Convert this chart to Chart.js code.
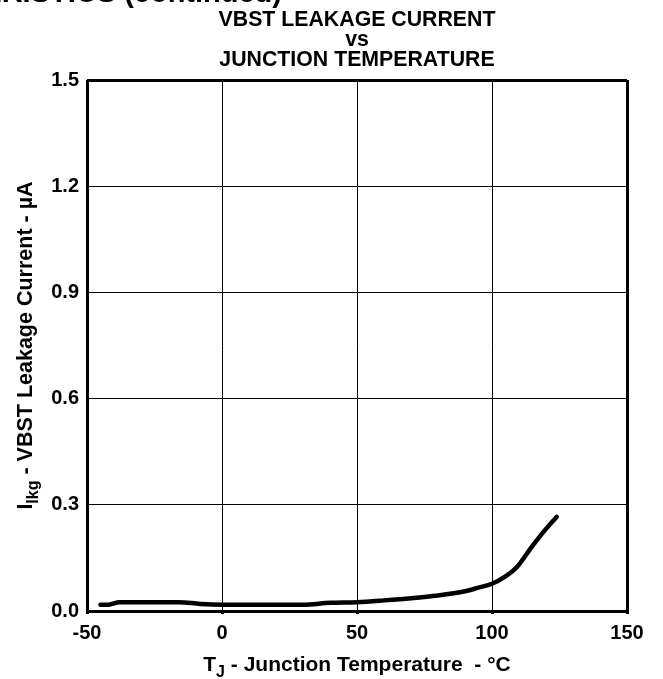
<!DOCTYPE html>
<html>
<head>
<meta charset="utf-8">
<script src="https://cdn.jsdelivr.net/npm/chart.js@4/dist/chart.umd.min.js"></script>
<style>
  html, body { margin: 0; padding: 0; background: #fff; overflow: hidden; }
  #wrap { position: relative; width: 663px; height: 679px; }
  #head {
    position: absolute; right: 381px; top: -24px; white-space: nowrap;
    font: bold 29px "Liberation Sans", Arial, sans-serif; color: #000;
  }
</style>
</head>
<body>
<div id="wrap">
  <div id="head">TYPICAL CHARACTERISTICS (continued)</div>
  <canvas id="chart" width="663" height="679"></canvas>
</div>
<script>
// junction temperature (°C) and leakage current (µA)
const tempC = [-45, -42, -38, -30, -16, -8, 0, 15, 30, 40, 50, 60, 70, 80, 90, 95, 100, 105, 109, 115, 120, 124];
const leakUA = [0.018, 0.018, 0.025, 0.025, 0.025, 0.020, 0.018, 0.018, 0.018, 0.023, 0.025, 0.030, 0.036, 0.044, 0.056, 0.066, 0.077, 0.098, 0.122, 0.184, 0.232, 0.266];

const xTicks = [-50, 0, 50, 100, 150];
const yTicks = [0, 0.3, 0.6, 0.9, 1.2, 1.5];

const titleLines = ['VBST LEAKAGE CURRENT', 'vs', 'JUNCTION TEMPERATURE'];

const FONT = '"Liberation Sans", Arial, sans-serif';

// draws the title and the axis titles (they have subscripts)
const textPlugin = {
  id: 'texts',
  afterDraw(chart) {
    const ctx = chart.ctx;
    const a = chart.chartArea;
    const cx = (a.left + a.right) / 2;
    ctx.save();
    ctx.fillStyle = '#000';
    ctx.textAlign = 'center';
    ctx.textBaseline = 'alphabetic';
    ctx.font = 'bold 21.3px ' + FONT;
    ctx.fillText(titleLines[0], cx, 26);
    ctx.fillText(titleLines[1], cx, 46);
    ctx.fillText(titleLines[2], cx, 66);

    // x title: T_J - Junction Temperature  - °C
    drawSub(ctx, 'T', 'J', ' - Junction Temperature  - °C', cx, 671, 21);

    // y title rotated
    ctx.translate(32, (a.top + a.bottom) / 2);
    ctx.rotate(-Math.PI / 2);
    drawSub(ctx, 'I', 'lkg', ' - VBST Leakage Current - µA', 0, 0, 21.5);
    ctx.restore();
  }
};

function drawSub(ctx, main, sub, rest, cx, y, size) {
  const big = 'bold ' + size + 'px ' + FONT;
  const small = 'bold ' + Math.round(size * 0.75) + 'px ' + FONT;
  ctx.font = big;
  const w1 = ctx.measureText(main).width;
  const w3 = ctx.measureText(rest).width;
  ctx.font = small;
  const w2 = ctx.measureText(sub).width;
  let x = cx - (w1 + w2 + w3) / 2;
  ctx.textAlign = 'left';
  ctx.font = big;
  ctx.fillText(main, x, y);
  x += w1;
  ctx.font = small;
  ctx.fillText(sub, x, y + size * 0.3);
  x += w2;
  ctx.font = big;
  ctx.fillText(rest, x, y);
  ctx.textAlign = 'center';
}

new Chart(document.getElementById('chart'), {
  type: 'line',
  data: {
    datasets: [{
      data: tempC.map((t, i) => ({ x: t, y: leakUA[i] })),
      borderColor: '#000',
      borderWidth: 4.5,
      borderCapStyle: 'round',
      pointRadius: 0,
      cubicInterpolationMode: 'monotone',
      fill: false
    }]
  },
  options: {
    responsive: false,
    animation: false,
    layout: { padding: { top: 80, right: 36, left: 0, bottom: 0 } },
    plugins: { legend: { display: false }, tooltip: { enabled: false } },
    scales: {
      x: {
        type: 'linear',
        min: -50, max: 150,
        afterBuildTicks: (s) => { s.ticks = xTicks.map(v => ({ value: v })); },
        afterFit: (s) => { s.height = 68; },
        grid: {
          color: '#000',
          lineWidth: (c) => (c.index === 0 || c.index === xTicks.length - 1) ? 3 : 1,
          drawTicks: true, tickLength: 3, tickWidth: 3, tickColor: '#000'
        },
        border: { display: false },
        ticks: {
          color: '#000', padding: 7,
          font: { family: FONT, size: 20, weight: 'bold' },
          callback: (v) => String(v)
        }
      },
      y: {
        min: 0, max: 1.5,
        afterBuildTicks: (s) => { s.ticks = yTicks.map(v => ({ value: v })); },
        afterFit: (s) => { s.width = 87; },
        grid: { color: '#000', lineWidth: (c) => (c.index === 0 || c.index === yTicks.length - 1) ? 3 : 1, drawTicks: false },
        border: { display: false },
        ticks: {
          color: '#000', padding: 8,
          font: { family: FONT, size: 20, weight: 'bold' },
          callback: (v) => v.toFixed(1)
        }
      }
    }
  },
  plugins: [textPlugin]
});
</script>
</body>
</html>
